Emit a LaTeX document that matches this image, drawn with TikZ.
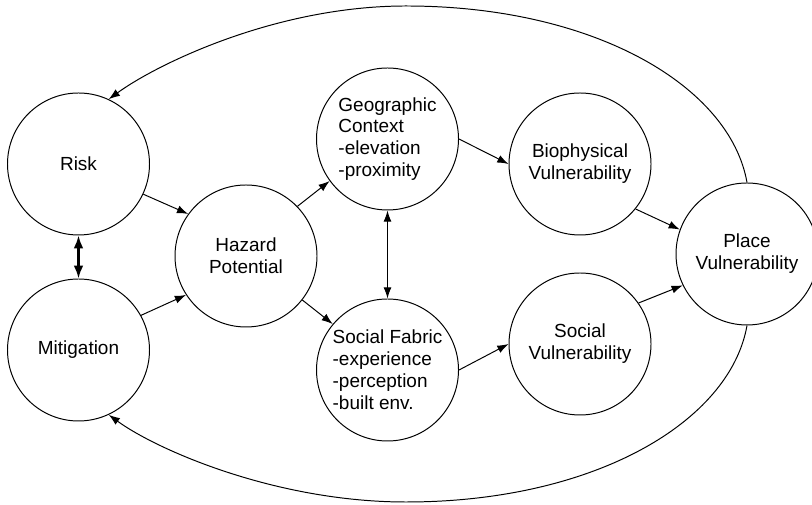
\documentclass[tikz,border=0pt]{standalone}
\usepackage{fontspec}
\setmainfont{Liberation Sans}
\usepackage{tikz}
\usetikzlibrary{arrows.meta}

\begin{document}
\begin{tikzpicture} [>={Latex[length=2.8mm,width=2mm]}, line width=0.7pt,
		bolla/.style={draw, circle, minimum size=3.55cm, inner sep=0pt, font=\fontsize{13.5}{15.6}\selectfont, align=center}]
				%\draw[help lines] (0,0)	grid (20,12);
				\useasboundingbox (0,0) rectangle (20.3,12.625);
				\node[bolla] (risk) at (1.9625,8.525) {Risk};
				\node[bolla] (mitig) at (1.9625,3.875) {Mitigation};
				\node[bolla] (hazard) at (6.15,6.225) {Hazard\\Potential};
				\node[bolla, align=left] (geo) at (9.6875,9.15) {Geographic\\Context\\-elevation\\-proximity};
				\node[bolla, align=left] (fabric) at (9.6875,3.375) {Social Fabric\\-experience\\-perception\\-built env.};
				\node[bolla] (bio) at (14.5,8.525) {Biophysical\\Vulnerability};
				\node[bolla] (socvul) at (14.5,4.025) {Social\\Vulnerability};
				\node[bolla] (place) at (18.675,6.275) {Place\\Vulnerability};
				\coordinate (sopra) at (10.15,12.475);
				\coordinate (sotto) at (10.15,0.075);
				\draw[{Latex[length=3.2mm,width=2.4mm]}-{Latex[length=3.2mm,width=2.4mm]}, line width=1.5pt] (risk) -- (mitig);
				\draw[->] (risk.-25) -- (hazard.144);
				\draw[->] (mitig.29) -- (hazard.-147);
				\draw[->] (hazard.44) -- (geo.-144);
				\draw[->] (hazard.-38) -- (fabric.140);
				\draw[<->] (geo) -- (fabric);
				\draw[->] (geo.east) -- (bio.west);
				\draw[->] (fabric.east) -- (socvul.west);
				\draw[->] (bio.-39) -- (place.160);
				\draw[->] (socvul.35) -- (place.-154);
				% anelli di ritorno
				\draw[->] (place.north) .. controls +(100:2.45) and +(0:4.7) .. (sopra)
					.. controls +(180:3.25) and +(36:1.5) .. (risk.65);
				\draw[->] (place.south) .. controls +(-100:2.45) and +(0:4.7) .. (sotto)
					.. controls +(180:3.25) and +(-36:1.5) .. (mitig.-65);
			\end{tikzpicture}
\end{document}
